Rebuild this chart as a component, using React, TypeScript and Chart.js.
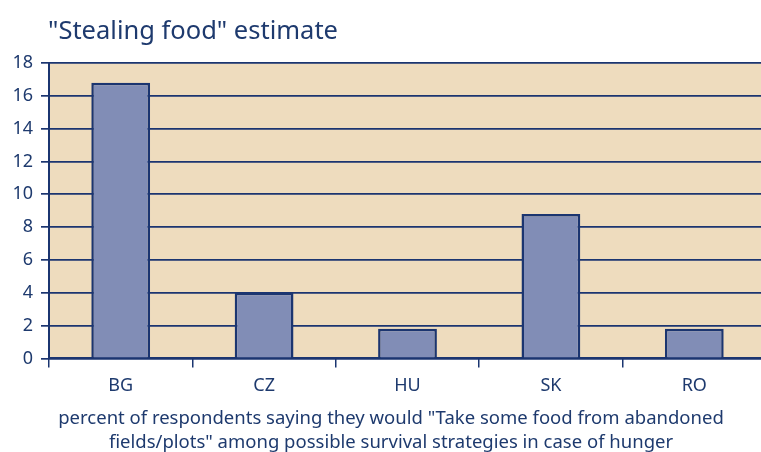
import { useEffect, useRef } from "react";
import { Chart, registerables } from "chart.js";
Chart.register(...registerables);

const categories = ["BG", "CZ", "HU", "SK", "RO"];
const values = [16.8, 4.0, 1.8, 8.8, 1.8];
const yMin = 0;
const yMax = 18;
const yStep = 2;
const titleText = '"Stealing food" estimate';
const captionLines = [
  'percent of respondents saying they would "Take some food from abandoned',
  'fields/plots" among possible survival strategies in case of hunger',
];

const NAVY = "#1b3570";
const TEXT = "#1e3a6e";
const FONT = "'Noto Sans', sans-serif";

const W = 780;
const H = 452;

const decorPlugin = {
  id: "decor",
  beforeDraw(chart: any) {
    const { ctx, chartArea } = chart;
    ctx.save();
    ctx.fillStyle = "#eedcbe";
    ctx.fillRect(chartArea.left, chartArea.top, chartArea.right - chartArea.left, chartArea.bottom - chartArea.top);
    ctx.restore();
  },
  afterDraw(chart: any) {
    const { ctx } = chart;
    ctx.save();
    ctx.fillStyle = TEXT;
    ctx.textBaseline = "alphabetic";
    ctx.textAlign = "left";
    ctx.font = `25.5px ${FONT}`;
    ctx.fillText(titleText, 48, 39);
    ctx.textAlign = "center";
    ctx.font = `18.5px ${FONT}`;
    ctx.fillText(captionLines[0], 391, 424);
    ctx.fillText(captionLines[1], 391, 448);
    ctx.restore();
  },
};

export default function App() {
  const ref = useRef<HTMLCanvasElement>(null);
  useEffect(() => {
    if (!ref.current) return;
    const chart = new Chart(ref.current, {
      type: "bar",
      data: {
        labels: categories,
        datasets: [
          {
            data: values,
            backgroundColor: "#818db6",
            borderColor: NAVY,
            borderWidth: 2.5,
            categoryPercentage: 0.82,
            barPercentage: 0.5,
          },
        ],
      },
      options: {
        responsive: false,
        animation: false,
        layout: { padding: { top: 63, right: 14, bottom: 47, left: 0 } },
        plugins: { legend: { display: false }, tooltip: { enabled: false }, title: { display: false } },
        scales: {
          x: {
            offset: true,
            grid: {
              offset: true,
              drawOnChartArea: false,
              color: NAVY,
              lineWidth: 1.5,
              tickLength: 9,
            },
            border: { display: true, color: NAVY, width: 2 },
            ticks: { color: TEXT, font: { family: FONT, size: 18 }, padding: 8 },
          },
          y: {
            min: yMin,
            max: yMax,
            ticks: { stepSize: yStep, color: TEXT, font: { family: FONT, size: 18 }, padding: 8 },
            grid: { color: NAVY, lineWidth: 1.7, tickLength: 8 },
            border: { display: true, color: NAVY, width: 2 },
            afterFit(scale: any) {
              scale.width = 49;
            },
          },
        },
      },
      plugins: [decorPlugin],
    });
    return () => chart.destroy();
  }, []);
  return (
    <div style={{ position: "absolute", left: 0, top: 0, width: 761, height: 452, overflow: "hidden", background: "#fff" }}>
      <canvas ref={ref} width={W} height={H} style={{ display: "block", width: W, height: H }} />
    </div>
  );
}
